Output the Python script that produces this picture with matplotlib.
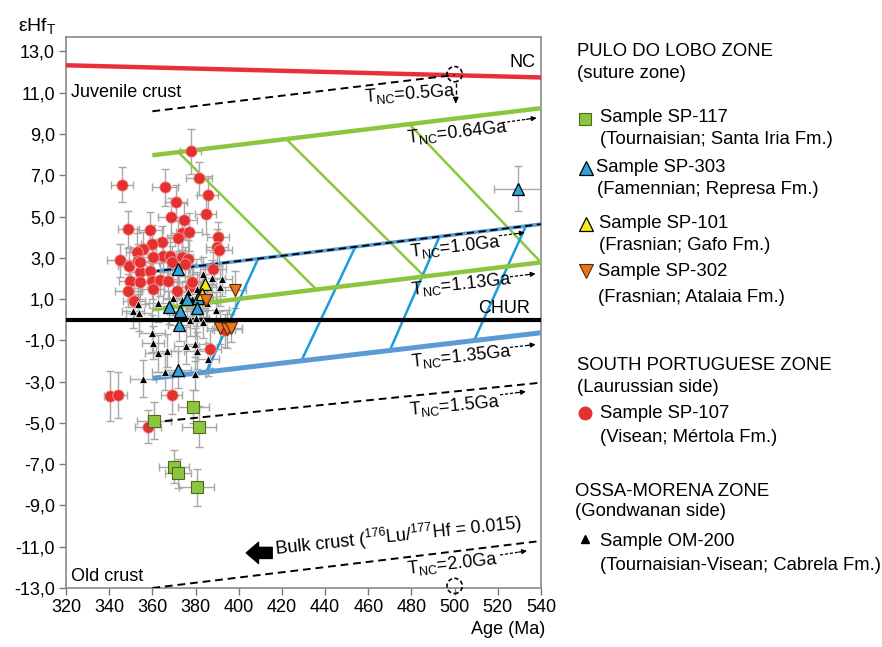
import numpy as np
import matplotlib
matplotlib.use('Agg')
import matplotlib.pyplot as plt

plt.rcParams['font.family'] = ['Liberation Sans', 'DejaVu Sans']
plt.rcParams['mathtext.fontset'] = 'custom'
plt.rcParams['mathtext.rm'] = 'Liberation Sans'
plt.rcParams['mathtext.it'] = 'Liberation Sans:italic'
plt.rcParams['mathtext.bf'] = 'Liberation Sans:bold'

# ---------------- data ----------------
# SP-107 (red circles)
sp107_age = [345.8, 365.9, 377.7, 381.6, 385.6, 370.9, 368.6, 374.6, 384.7, 348.9,
             358.9, 373.6, 377.1, 372.0, 390.5, 364.3, 359.7, 355.8, 389.8, 391.0,
             352.7, 345.0, 349.3, 365.1, 368.2, 368.9, 373.6, 353.5, 354.3, 358.9,
             349.6, 354.3, 359.7, 363.5, 367.4, 348.9, 360.4, 371.2, 377.4, 388.2,
             351.5, 340.4, 344.2, 368.9, 358.1, 386.7, 393.5, 376.5, 375.0, 378.2,
             354.3, 360.4]
sp107_ehf = [6.55, 6.42, 8.16, 6.85, 6.06, 5.72, 5.00, 4.85, 5.13, 4.38,
             4.33, 4.20, 4.25, 3.96, 4.03, 3.75, 3.67, 3.45, 3.51, 3.38,
             3.28, 2.88, 2.60, 3.10, 3.10, 2.78, 3.02, 2.86, 2.29, 2.38,
             1.89, 1.81, 1.89, 1.93, 1.89, 1.41, 1.49, 1.41, 1.57, 2.46,
             0.90, -3.69, -3.64, -3.65, -5.19, -1.42, -0.50, 2.95, 2.70, 1.81,
             2.78, 3.02]
sp107_xerr = [5, 6, 5, 6, 5, 5, 6, 6, 5, 5, 6, 5, 6, 5, 5, 6, 5, 6, 5, 6,
              5, 6, 5, 6, 5, 6, 5, 6, 5, 6, 5, 6, 5, 6, 5, 6, 5, 6, 5, 6,
              5, 3, 4, 5, 6, 5, 5, 6, 5, 6, 5, 6]
sp107_yerr = [0.85, 0.9, 1.1, 0.8, 0.9, 0.8, 0.9, 0.8, 1.0, 0.9, 0.9, 0.8, 0.9, 0.8, 0.7,
              0.8, 0.9, 0.8, 0.9, 0.8, 0.9, 0.8, 0.9, 0.8, 0.9, 0.8, 0.9, 0.8, 0.9, 0.8,
              0.9, 0.8, 0.9, 0.8, 0.9, 0.8, 0.9, 0.8, 0.9, 0.8, 0.9, 1.2, 1.1, 0.9, 0.8,
              0.9, 0.8, 0.9, 0.8, 0.9, 0.8, 0.9]

# OM-200 (small black triangles)
om200_age = [350.9, 354.0, 353.5, 362.8, 369.7, 373.5, 378.2, 382.1, 385.5, 389.5,
             377.4, 380.2, 383.6, 359.7, 360.4, 362.8, 366.7, 375.8, 379.7, 380.6,
             385.7, 365.9, 379.7, 355.6, 383.6, 387.5, 392.1, 391.3, 380.5, 383.6,
             376.6]
om200_ehf = [0.40, 0.35, 0.76, 0.80, 1.05, 0.95, 1.00, 1.00, 0.80, 0.45,
             0.00, 0.10, -0.10, -0.65, -1.12, -1.62, -1.50, -1.26, -1.20, -1.50,
             -1.91, -2.52, -2.62, -2.85, 2.22, 2.00, 1.97, 1.57, 1.49, 1.32,
             1.32]
om200_xerr = [5, 6, 5, 6, 5, 6, 5, 6, 5, 6, 5, 6, 5, 6, 5, 6, 5, 6, 5, 6,
              5, 6, 5, 6, 5, 6, 5, 6, 5, 6, 5]
om200_yerr = [0.8, 0.9, 0.8, 0.9, 0.8, 0.9, 0.8, 0.9, 0.8, 0.9, 0.8, 0.9, 0.8, 0.9, 0.8,
              0.9, 0.8, 0.9, 0.8, 0.9, 0.8, 0.9, 0.8, 0.9, 0.8, 0.9, 0.8, 0.9, 0.8, 0.9,
              0.8]

# SP-303 (blue triangles)
sp303_age = [372.0, 367.6, 372.8, 372.3, 376.0, 381.0, 380.7, 372.0, 529.5]
sp303_ehf = [2.45, 0.60, 0.42, -0.25, 1.00, 1.05, 0.58, -2.43, 6.35]
sp303_xerr = [5, 5, 6, 5, 5, 6, 5, 6, 11.5]
sp303_yerr = [0.9, 0.8, 0.9, 0.8, 0.9, 0.8, 0.9, 0.9, 1.1]

# SP-101 (yellow triangles)
sp101_age = [384.5, 382.8]
sp101_ehf = [1.75, 1.25]
sp101_xerr = [5, 5]
sp101_yerr = [0.8, 0.8]

# SP-302 (orange inverted triangles)
sp302_age = [398.5, 385.0, 391.5, 394.5, 396.5]
sp302_ehf = [1.45, 0.95, -0.40, -0.45, -0.40]
sp302_xerr = [5, 5, 6, 7, 5]
sp302_yerr = [0.9, 0.8, 0.8, 0.9, 0.7]

# SP-117 (green squares)
sp117_age = [360.8, 379.0, 381.6, 370.0, 371.7, 380.5]
sp117_ehf = [-4.90, -4.22, -5.19, -7.12, -7.44, -8.13]
sp117_xerr = [8, 7, 8, 7, 6, 8]
sp117_yerr = [0.9, 0.8, 1.0, 0.8, 0.7, 0.9]

# reference lines (age endpoints, eHf endpoints)
nc_age, nc_ehf = [320, 540], [12.33, 11.74]
t05_age, t05_ehf = [360, 500], [10.10, 11.86]
t064_age, t064_ehf = [360, 540], [7.97, 10.25]
t10_age, t10_ehf = [360, 540], [2.33, 4.63]
t113_age, t113_ehf = [360, 540], [0.50, 2.78]
t135_age, t135_ehf = [360, 540], [-2.84, -0.63]
t15_age, t15_ehf = [360, 540], [-4.97, -3.05]
t20_age, t20_ehf = [360, 540], [-13.0, -10.72]
chur_ehf = 0.0

green_diag_top_age = [372, 422, 479]
green_diag_bot_age = [436, 486, 540]
blue_diag_bot_age = [385, 429, 470, 509]
blue_diag_top_age = [409, 454, 493, 533]

x_ticks = [320, 340, 360, 380, 400, 420, 440, 460, 480, 500, 520, 540]
y_ticks = [13, 11, 9, 7, 5, 3, 1, -1, -3, -5, -7, -9, -11, -13]
y_tick_labels = ['13,0', '11,0', '9,0', '7,0', '5,0', '3,0', '1,0', '-1,0', '-3,0',
                 '-5,0', '-7,0', '-9,0', '-11,0', '-13,0']

# ---------------- figure ----------------
W, H = 882, 647
fig = plt.figure(figsize=(W / 100, H / 100), dpi=100)
ax = fig.add_axes([66 / W, 1 - 588 / H, (541 - 66) / W, (588 - 37) / H])
ax.set_xlim(320, 540)
ax.set_ylim(-13.0, 13.7)

RED = '#e2312f'
GREEN = '#8cc63f'
BLUE_LINE = '#5b9bd5'
BLUE_DIAG = '#1c9ce0'
BLUE_TRI = '#2ea3dc'
YELLOW = '#f5ea14'
ORANGE = '#e8761e'
EB = '#a8a8a8'

# error bars
for a, e, xe, ye in [(sp107_age, sp107_ehf, sp107_xerr, sp107_yerr),
                     (om200_age, om200_ehf, om200_xerr, om200_yerr),
                     (sp303_age, sp303_ehf, sp303_xerr, sp303_yerr),
                     (sp101_age, sp101_ehf, sp101_xerr, sp101_yerr),
                     (sp302_age, sp302_ehf, sp302_xerr, sp302_yerr),
                     (sp117_age, sp117_ehf, sp117_xerr, sp117_yerr)]:
    ax.errorbar(a, e, xerr=xe, yerr=ye, fmt='none', ecolor=EB, elinewidth=1,
                capsize=3, capthick=1, zorder=2)

# lines
ax.plot(nc_age, nc_ehf, color='#e8303a', lw=3.2, zorder=3, solid_capstyle='butt')
ax.axhline(chur_ehf, color='black', lw=3, zorder=3)
ax.plot(t064_age, t064_ehf, color=GREEN, lw=3.2, zorder=3, solid_capstyle='butt')
ax.plot(t113_age, t113_ehf, color=GREEN, lw=3.2, zorder=3, solid_capstyle='butt')
ax.plot(t10_age, t10_ehf, color=BLUE_LINE, lw=2.6, zorder=3, solid_capstyle='butt')
ax.plot(t10_age, t10_ehf, color='black', lw=1.3, ls=(0, (4, 2.5)), zorder=3.1)
ax.plot(t135_age, t135_ehf, color=BLUE_LINE, lw=3.6, zorder=3, solid_capstyle='butt')
for aa, ee in [(t05_age, t05_ehf), (t15_age, t15_ehf), (t20_age, t20_ehf)]:
    ax.plot(aa, ee, color='black', lw=1.4, ls=(0, (4, 2.5)), zorder=3)

for xt, xb in zip(green_diag_top_age, green_diag_bot_age):
    ax.plot([xt, xb], [np.interp(xt, t064_age, t064_ehf), np.interp(xb, t113_age, t113_ehf)],
            color=GREEN, lw=1.8, zorder=2.9)
for xb, xt in zip(blue_diag_bot_age, blue_diag_top_age):
    ax.plot([xb, xt], [np.interp(xb, t135_age, t135_ehf), np.interp(xt, t10_age, t10_ehf)],
            color=BLUE_DIAG, lw=1.8, zorder=2.9)

# dashed circles (model age intercepts)
ax.scatter([500, 500], [11.9, -12.9], s=120, facecolors='none', edgecolors='black',
           linewidths=1.2, linestyles=(0, (2.5, 1.5)), zorder=6, clip_on=False)
ax.plot([500.5, 500.5], [11.45, 10.65], color='black', lw=1, ls=(0, (3, 2)), zorder=4)
ax.annotate('', xy=(500.5, 10.35), xytext=(500.5, 10.7),
            arrowprops=dict(arrowstyle='-|>', color='black', lw=1, mutation_scale=8), zorder=4)

# markers
ax.plot(sp107_age, sp107_ehf, 'o', ms=8.3, mfc=RED, mec='#f3a0a0', mew=0.6, ls='none', zorder=5)
ax.plot(om200_age, om200_ehf, '^', ms=5.5, mfc='black', mec='white', mew=0.5, ls='none', zorder=5)
ax.plot(sp303_age, sp303_ehf, '^', ms=9, mfc=BLUE_TRI, mec='black', mew=0.9, ls='none', zorder=5)
ax.plot(sp101_age, sp101_ehf, '^', ms=9, mfc=YELLOW, mec='black', mew=0.9, ls='none', zorder=5)
ax.plot(sp302_age, sp302_ehf, 'v', ms=9, mfc=ORANGE, mec='#5a2a00', mew=0.8, ls='none', zorder=5)
ax.plot(sp117_age, sp117_ehf, 's', ms=8, mfc=GREEN, mec='#4b6b1b', mew=0.8, ls='none', zorder=5)

# axes styling
ax.set_xticks(x_ticks)
ax.set_yticks(y_ticks)
ax.set_yticklabels(y_tick_labels)
ax.tick_params(direction='out', length=5, width=1, color='#777777', labelsize=13, pad=3)
for s in ax.spines.values():
    s.set_color('#8a8a8a')
    s.set_linewidth(1.2)

fig.canvas.draw()


def screen_angle(xs, ys):
    p1 = ax.transData.transform((xs[0], ys[0]))
    p2 = ax.transData.transform((xs[-1], ys[-1]))
    return np.degrees(np.arctan2(p2[1] - p1[1], p2[0] - p1[0]))


FS = 13
TNC = r'T$_{\mathregular{NC}}$'
ax.text(531.5, 12.45, 'NC', fontsize=FS, ha='center', va='center', zorder=7)
ax.text(322.5, 11.0, 'Juvenile crust', fontsize=FS, ha='left', va='center', zorder=7)
ax.text(479.5, 10.97, TNC + '=0.5Ga', fontsize=FS, ha='center', va='center',
        rotation=4, zorder=7)
labels = [(501.0, 9.08, '=0.64Ga', t064_age, t064_ehf),
          (500.5, 3.52, '=1.0Ga', t10_age, t10_ehf),
          (503.0, 1.72, '=1.13Ga', t113_age, t113_ehf),
          (503.0, -1.80, '=1.35Ga', t135_age, t135_ehf),
          (500.0, -4.15, '=1.5Ga', t15_age, t15_ehf),
          (499.0, -11.85, '=2.0Ga', t20_age, t20_ehf)]
for x, y, s, la, le in labels:
    ax.text(x, y, TNC + s, fontsize=FS, ha='center', va='center',
            rotation=screen_angle(la, le) - 0.5, rotation_mode='anchor', zorder=7)

arrows = [((522, 9.55), (538, 9.78)),
          ((520.5, 4.07), (532.5, 4.22)),
          ((525.6, 2.08), (537.5, 2.23)),
          ((525.6, -1.34), (537.5, -1.20)),
          ((521.0, -3.64), (533.0, -3.48)),
          ((521.0, -11.40), (533.5, -11.20))]
for (x0, y0), (x1, y1) in arrows:
    xm = x1 - (x1 - x0) * 0.3
    ym = y1 - (y1 - y0) * 0.3
    ax.plot([x0, xm], [y0, ym], color='black', lw=0.9, ls=(0, (2.5, 1.5)), zorder=7)
    ax.annotate('', xy=(x1, y1), xytext=(xm, ym),
                arrowprops=dict(arrowstyle='-|>', color='black', lw=0.9,
                                mutation_scale=7, shrinkA=0, shrinkB=0), zorder=7)

ax.text(523.0, 0.55, 'CHUR', fontsize=FS, ha='center', va='center', zorder=7)
ax.text(474.0, -10.5, r'Bulk crust ($^{\mathregular{176}}$Lu/$^{\mathregular{177}}$Hf = 0.015)',
        fontsize=FS, ha='center', va='center', rotation=6, rotation_mode='anchor', zorder=7)
ax.annotate('', xy=(403.5, -11.3), xytext=(415.5, -11.3),
            arrowprops=dict(arrowstyle='simple,head_length=0.55,head_width=0.95,tail_width=0.5',
                            color='black', mutation_scale=16, shrinkA=0, shrinkB=0), zorder=7)
ax.text(322.5, -12.45, 'Old crust', fontsize=FS, ha='left', va='center', zorder=7)

# axis titles
fig.text(18 / W, 1 - 26 / H, r'εHf$_{\mathregular{T}}$', fontsize=14, ha='left', va='center')
fig.text(508 / W, 1 - 630 / H, 'Age (Ma)', fontsize=FS, ha='center', va='center')

# ---------------- legend panel ----------------
lg = fig.add_axes([0, 0, 1, 1])
lg.set_xlim(0, W)
lg.set_ylim(H, 0)
lg.axis('off')
lg.patch.set_alpha(0)

texts = [(577, 52, 'PULO DO LOBO ZONE'), (577, 73, '(suture zone)'),
         (600, 118, 'Sample SP-117'), (600, 139, '(Tournaisian; Santa Iria Fm.)'),
         (596, 167, 'Sample SP-303'), (597, 189, '(Famennian; Represa Fm.)'),
         (599, 223, 'Sample SP-101'), (599, 245, '(Frasnian; Gafo Fm.)'),
         (598, 272, 'Sample SP-302'), (598, 297, '(Frasnian; Atalaia Fm.)'),
         (577, 366, 'SOUTH PORTUGUESE ZONE'), (577, 387, '(Laurussian side)'),
         (600, 413, 'Sample SP-107'), (600, 438, '(Visean; Mértola Fm.)'),
         (575, 492, 'OSSA-MORENA ZONE'), (575, 512, '(Gondwanan side)'),
         (600, 541, 'Sample OM-200'), (600, 565, '(Tournaisian-Visean; Cabrela Fm.)')]
for x, y, s in texts:
    lg.text(x, y, s, fontsize=13.3, ha='left', va='center')

lg.plot([585], [119], 's', ms=9, mfc=GREEN, mec='#4b6b1b', mew=0.8)
lg.plot([586], [168], '^', ms=10, mfc=BLUE_TRI, mec='black', mew=0.9)
lg.plot([586], [224], '^', ms=10, mfc=YELLOW, mec='black', mew=0.9)
lg.plot([586], [271], 'v', ms=10, mfc=ORANGE, mec='#5a2a00', mew=0.8)
lg.plot([585], [413], 'o', ms=9, mfc=RED, mec=RED)
lg.plot([585], [539], '^', ms=6, mfc='black', mec='black')

fig.savefig('out.png', dpi=100)
